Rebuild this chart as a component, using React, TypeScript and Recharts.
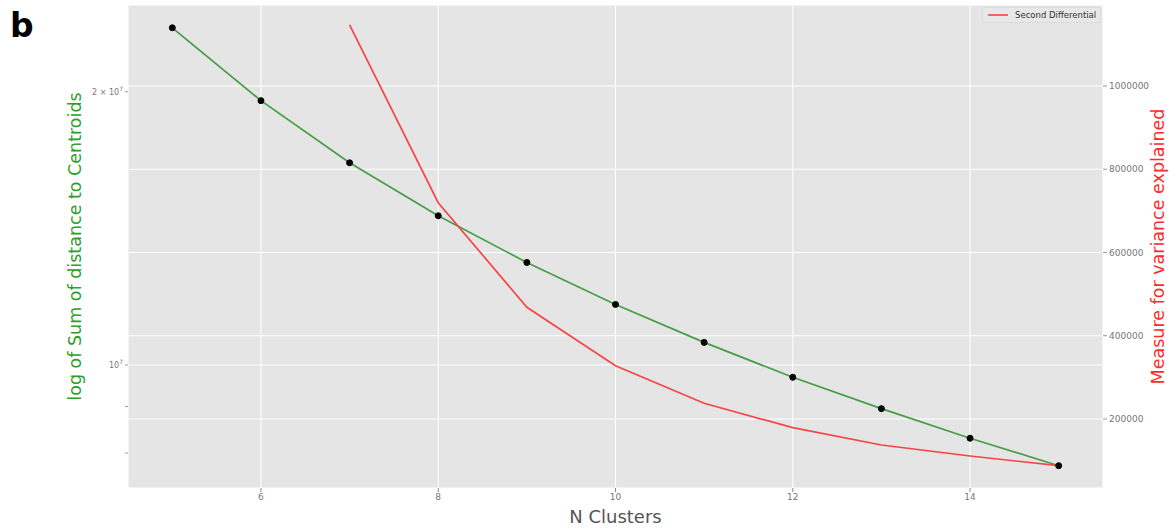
import React from 'react';
import {
  ComposedChart, Line, XAxis, YAxis, CartesianGrid, ReferenceLine, Legend, Label,
} from 'recharts';

const clusters = [5, 6, 7, 8, 9, 10, 11, 12, 13, 14, 15];
const sumDistances = [2.352e7, 1.955e7, 1.670e7, 1.460e7, 1.297e7, 1.166e7, 1.059e7, 9.693e6, 8.952e6, 8.305e6, 7.746e6];
const secondDiff: (number | null)[] = [null, null, 1146400, 719500, 468300, 328000, 237700, 179100, 137500, 111100, 87800];

const xTicks = [6, 8, 10, 12, 14];
const leftTicks = [8e6, 9e6, 1e7, 2e7];
const rightTicks = [200000, 400000, 600000, 800000, 1000000];

const data = clusters.map((c, i) => ({ n: c, sse: sumDistances[i], diff: secondDiff[i] }));

const FONT = '"DejaVu Sans", sans-serif';

const LeftTick = (props: any) => {
  const { x, y, payload } = props;
  const v = payload.value;
  let content: React.ReactNode = null;
  if (Math.abs(v - 1e7) < 1) {
    content = (<>
      <tspan>10</tspan><tspan dy={-4} fontSize={6}>7</tspan>
    </>);
  } else if (Math.abs(v - 2e7) < 1) {
    content = (<>
      <tspan>2 × 10</tspan><tspan dy={-4} fontSize={6}>7</tspan>
    </>);
  }
  if (!content) return null;
  return (
    <text x={x} y={y + 3} textAnchor="end" fill="#777" fontSize={8} fontFamily={FONT}>
      {content}
    </text>
  );
};

const LegendBox = () => (
  <div style={{
    display: 'flex', alignItems: 'center', background: '#e8e8e8', border: '1px solid #dcdcdc',
    borderRadius: 3, padding: '2px 4px', fontFamily: FONT, fontSize: 8.5, color: '#333', whiteSpace: 'nowrap',
  }}>
    <svg width={22} height={8} style={{ marginRight: 6 }}>
      <line x1={1} y1={4} x2={21} y2={4} stroke="#f74545" strokeWidth={1.6} />
    </svg>
    <span>Second Differential</span>
  </div>
);

export default function App() {
  return (
    <div style={{ position: 'absolute', left: 0, top: 0, width: 1176, height: 529, background: '#fff' }}>
      <div style={{
        position: 'absolute', left: 10, top: 6, fontFamily: FONT, fontWeight: 'bold', fontSize: 33, color: '#000', zIndex: 2,
      }}>b</div>
      <ComposedChart
        width={1176}
        height={529}
        data={data}
        margin={{ top: 5, right: 0, bottom: 0, left: 0 }}
        style={{ fontFamily: FONT }}
      >
        <CartesianGrid
          yAxisId="right"
          fill="#e5e5e5"
          stroke="#ffffff"
          strokeWidth={1.1}
          horizontal
          vertical
        />
        <ReferenceLine yAxisId="left" y={1e7} stroke="#ffffff" strokeWidth={1.1} />
        <XAxis
          dataKey="n"
          type="number"
          domain={[4.5, 15.5]}
          ticks={xTicks}
          axisLine={false}
          tickLine={{ stroke: '#888' }}
          tickSize={4}
          tick={{ fill: '#777', fontSize: 9 }}
          height={41}
          allowDataOverflow
        >
          <Label value="N Clusters" position="insideBottom" offset={6} fill="#555" fontSize={18} />
        </XAxis>
        <YAxis
          yAxisId="left"
          scale="log"
          domain={[7.32e6, 2.492e7]}
          ticks={leftTicks}
          allowDataOverflow
          axisLine={false}
          tickLine={{ stroke: '#999' }}
          tickSize={3}
          tick={<LeftTick />}
          width={128}
          interval={0}
        >
          <Label
            value="log of Sum of distance to Centroids"
            angle={-90}
            position="center"
            dx={11}
            fill="#2e9e2e"
            fontSize={17.5}
          />
        </YAxis>
        <YAxis
          yAxisId="right"
          orientation="right"
          domain={[34200, 1194400]}
          ticks={rightTicks}
          allowDataOverflow
          axisLine={false}
          tickLine={{ stroke: '#999' }}
          tickSize={4}
          tick={{ fill: '#777', fontSize: 9 }}
          width={73}
          interval={0}
        >
          <Label
            value="Measure for variance explained"
            angle={-90}
            position="center"
            dx={18}
            fill="#ff2a2a"
            fontSize={17.5}
          />
        </YAxis>
        <Legend
          layout="horizontal"
          verticalAlign="middle"
          align="center"
          content={<LegendBox />}
          wrapperStyle={{ position: 'absolute', top: 7, left: 982, width: 'auto', height: 'auto' }}
        />
        <Line
          yAxisId="left"
          dataKey="sse"
          stroke="#459e45"
          strokeWidth={1.7}
          dot={{ r: 3, fill: '#000', stroke: '#000', strokeWidth: 1 }}
          activeDot={false}
          isAnimationActive={false}
          legendType="none"
        />
        <Line
          yAxisId="right"
          dataKey="diff"
          stroke="#f74545"
          strokeWidth={1.7}
          dot={false}
          activeDot={false}
          connectNulls={false}
          isAnimationActive={false}
          name="Second Differential"
        />
      </ComposedChart>
    </div>
  );
}
